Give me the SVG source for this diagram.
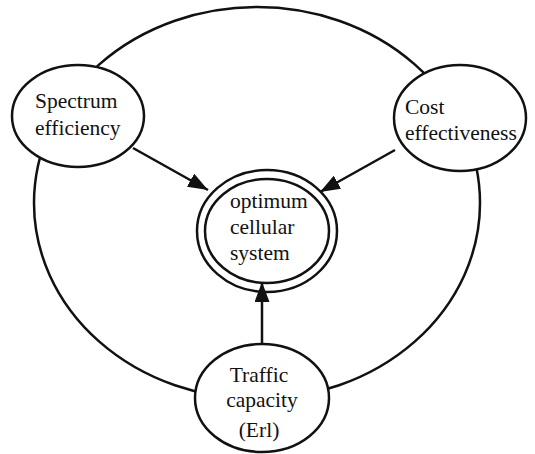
<svg xmlns="http://www.w3.org/2000/svg" width="535" height="454" viewBox="0 0 535 454">
<style>
.o{fill:#fff;stroke:#111;stroke-width:2.5}
.c{fill:none;stroke:#111;stroke-width:2.5}
text{font-family:"Liberation Serif","Times New Roman",serif;font-size:21.5px;fill:#111}
</style>
<defs>
<marker id="ah" markerWidth="8" markerHeight="6" refX="8" refY="3" orient="auto" markerUnits="strokeWidth">
<path d="M0,0 L8,3 L0,6 Z" fill="#111"/>
</marker>
</defs>
<rect width="535" height="454" fill="#fff"/>
<g id="ring">
<ellipse class="c" cx="257" cy="203" rx="223" ry="196"/>
</g>
<g id="connectors">
<line class="c" x1="133" y1="148" x2="208" y2="190" marker-end="url(#ah)"/>
<line class="c" x1="395" y1="150" x2="320" y2="192" marker-end="url(#ah)"/>
<line class="c" x1="262" y1="345" x2="262" y2="282" marker-end="url(#ah)"/>
</g>
<g id="spectrum">
<ellipse class="o" cx="78" cy="116" rx="66" ry="51"/>
<text x="35" y="108">Spectrum</text>
<text x="35" y="135">efficiency</text>
</g>
<g id="cost">
<ellipse class="o" cx="460" cy="118" rx="66" ry="53"/>
<text x="405" y="114">Cost</text>
<text x="405" y="140">effectiveness</text>
</g>
<g id="optimum">
<ellipse class="c" cx="267" cy="231" rx="70" ry="61"/>
<ellipse class="c" cx="267" cy="231" rx="62" ry="52"/>
<text x="230" y="208">optimum</text>
<text x="230" y="234">cellular</text>
<text x="230" y="260">system</text>
</g>
<g id="traffic">
<ellipse class="o" cx="262" cy="398" rx="67" ry="54"/>
<text x="259" y="382" text-anchor="middle">Traffic</text>
<text x="262" y="407" text-anchor="middle">capacity</text>
<text x="259" y="437" text-anchor="middle">(Erl)</text>
</g>
</svg>
